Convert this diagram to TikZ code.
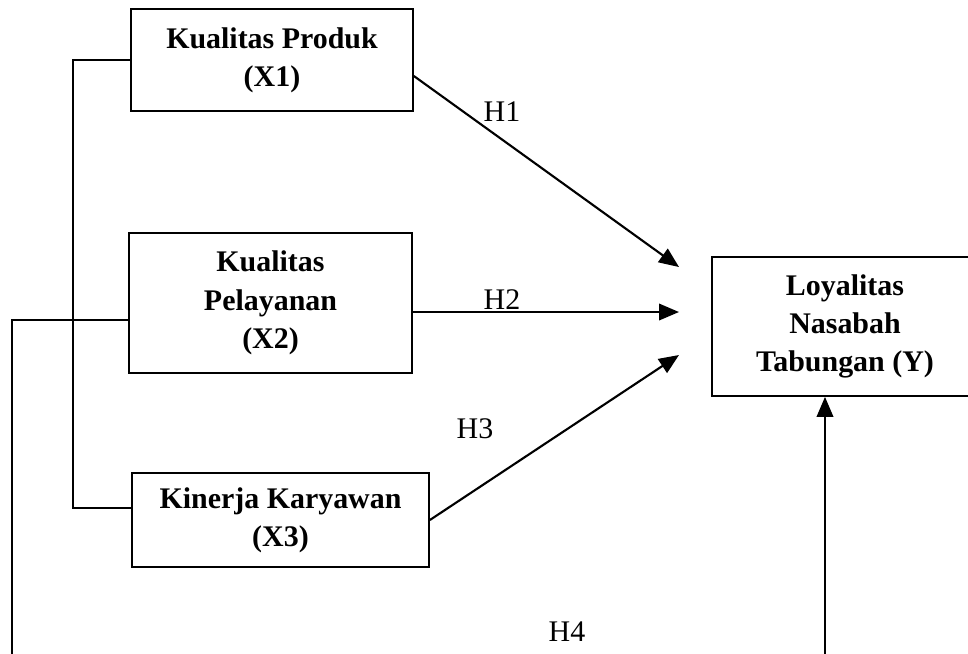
\documentclass[tikz,border=0pt]{standalone}
\usepackage{fontspec}
\setmainfont{Liberation Serif}
\usepackage{tikz}
\usetikzlibrary{arrows.meta,calc,positioning}

\begin{document}
\begin{tikzpicture}[x=0.401pt,y=-0.401pt,
  var/.style={draw,line width=0.7pt,align=center,inner sep=0pt,
    font=\fontsize{12}{15.4}\selectfont\bfseries},
  arr/.style={line width=0.85pt,-{Triangle[length=8pt,width=6.6pt]}},
  link/.style={line width=0.7pt},
  hyp/.style={font=\fontsize{12}{14}\selectfont}]
\useasboundingbox (0,0) rectangle (968,653);
\node[var,minimum width=282*0.401pt,minimum height=102*0.401pt] (X1) at (272,60) {Kualitas Produk\\(X1)};
\node[var,minimum width=283*0.401pt,minimum height=140*0.401pt] (X2) at (270.5,303) {Kualitas\\Pelayanan\\(X2)};
\node[var,minimum width=297*0.401pt,minimum height=94*0.401pt] (X3) at (280.5,520) {Kinerja Karyawan\\(X3)};
\node[var,minimum width=266*0.401pt,minimum height=139*0.401pt] (Y) at (845,326.5) {Loyalitas\\Nasabah\\Tabungan (Y)};
\coordinate (h1end) at (679,267);
\coordinate (h2end) at (679,312);
\coordinate (h3end) at (679,355);
\coordinate (h4start) at (825,660);
\coordinate (outer) at (12,660);
\draw[arr] (X1.east |- 0,76) -- (h1end);
\draw[arr] (X2.east |- 0,312) -- (h2end);
\draw[arr] (X3.east) -- (h3end);
\draw[arr] (h4start) -- (Y.south -| h4start);
\draw[link] (X1.west) -- (73,60) -- (73,508) -- (X3.west |- 0,508);
\draw[link] (X2.west |- 0,320) -- (12,320) -- (outer);
\node[hyp] (H1) at (502,112) {H1};
\node[hyp] (H2) at (502,300) {H2};
\node[hyp] (H3) at (475,429) {H3};
\node[hyp] (H4) at (567,632) {H4};
\end{tikzpicture}
\end{document}
